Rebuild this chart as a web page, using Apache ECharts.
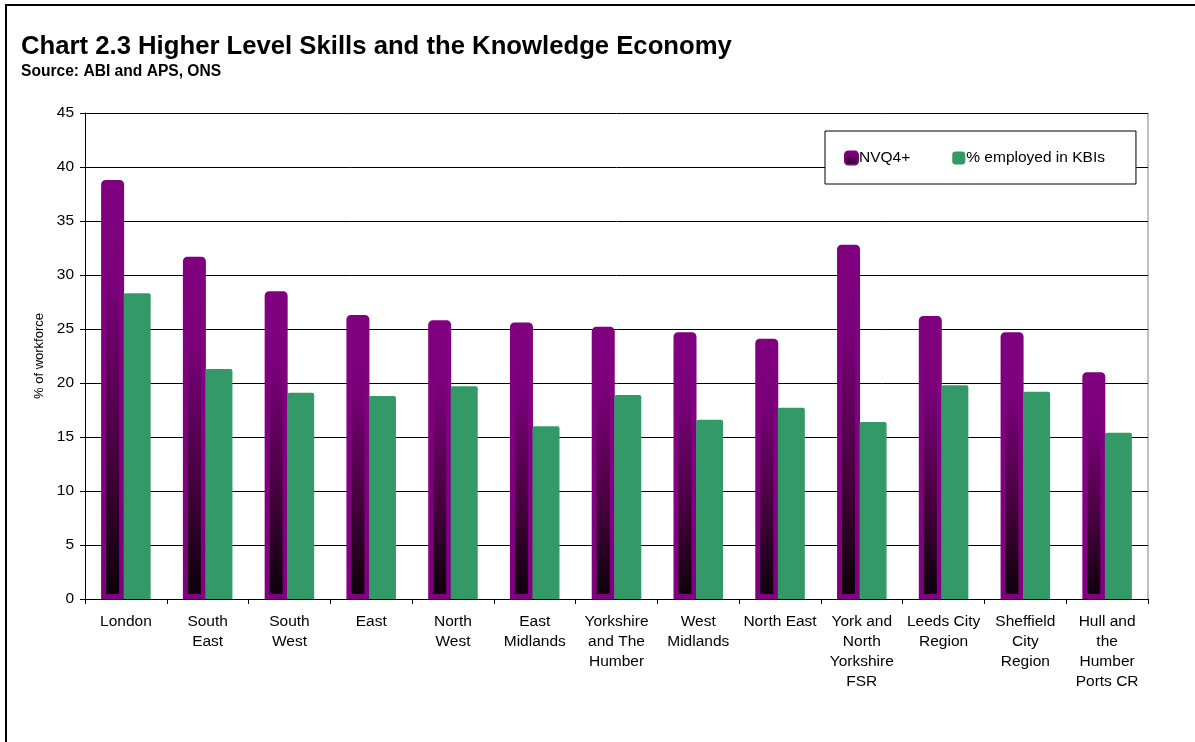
<!DOCTYPE html>
<html>
<head>
<meta charset="utf-8">
<script src="https://cdn.jsdelivr.net/npm/echarts@6/dist/echarts.min.js"></script>
<style>
  html, body { margin: 0; padding: 0; background: #fff; }
  #chart { width: 1195px; height: 742px; }
</style>
</head>
<body>
<div id="chart"></div>
<script>
// Regions along the category axis (line breaks as printed under each bar)
const regions = [
  'London', 'South\nEast', 'South\nWest', 'East', 'North\nWest', 'East\nMidlands',
  'Yorkshire\nand The\nHumber', 'West\nMidlands', 'North East',
  'York and\nNorth\nYorkshire\nFSR', 'Leeds City\nRegion', 'Sheffield\nCity\nRegion',
  'Hull and\nthe\nHumber\nPorts CR'
];

// Share of workforce qualified to NVQ level 4 or above (%)
const nvq4 = [38.8, 31.7, 28.5, 26.3, 25.8, 25.6, 25.2, 24.7, 24.1, 32.8, 26.2, 24.7, 21.0];

// Share of workforce employed in knowledge-based industries (%)
const kbi = [28.3, 21.3, 19.1, 18.8, 19.7, 16.0, 18.9, 16.6, 17.7, 16.4, 19.8, 19.2, 15.4];

const yTicks = { min: 0, max: 45, interval: 5 };

const FONT = '"Liberation Sans", Arial, sans-serif';

const chart = echarts.init(document.getElementById('chart'));

chart.setOption({
  animation: false,
  backgroundColor: '#fff',
  textStyle: { fontFamily: FONT },
  graphic: [{
    // outer frame of the exhibit
    type: 'rect',
    shape: { x: 6, y: 5, width: 1220, height: 800 },
    style: { fill: 'none', stroke: '#000', lineWidth: 2 },
    silent: true
  }, {
    // right-hand edge of the plot area
    type: 'line',
    shape: { x1: 1148, y1: 113, x2: 1148, y2: 599 },
    style: { stroke: '#808080', lineWidth: 1 },
    silent: true
  }],
  title: {
    text: 'Chart 2.3 Higher Level Skills and the Knowledge Economy',
    subtext: 'Source: ABI and APS, ONS',
    left: 16,
    top: 29,
    itemGap: 4,
    textStyle: { fontFamily: FONT, fontSize: 25.7, fontWeight: 'bold', color: '#000' },
    subtextStyle: { fontFamily: FONT, fontSize: 15.6, fontWeight: 'bold', color: '#000' }
  },
  legend: {
    left: 825,
    top: 131,
    padding: [19, 31, 18, 19],
    itemGap: 42,
    itemWidth: 13,
    itemHeight: 13,
    icon: 'roundRect',
    backgroundColor: '#fff',
    borderColor: '#000',
    borderWidth: 1,
    borderRadius: 0,
    textStyle: { fontFamily: FONT, fontSize: 15.5, color: '#000', padding: [0, 0, 0, -4] },
    data: ['NVQ4+', '% employed in KBIs']
  },
  grid: { left: 85, right: 47, top: 113, bottom: 143 },
  xAxis: {
    type: 'category',
    data: regions,
    axisLine: { lineStyle: { color: '#000', width: 1 } },
    axisTick: { show: true, length: 5, lineStyle: { color: '#000' } },
    axisLabel: {
      interval: 0,
      fontFamily: FONT,
      fontSize: 15.5,
      lineHeight: 20,
      color: '#000',
      margin: 13
    },
    splitLine: { show: false }
  },
  yAxis: {
    type: 'value',
    min: yTicks.min,
    max: yTicks.max,
    interval: yTicks.interval,
    name: '% of workforce',
    nameLocation: 'middle',
    nameGap: 36,
    nameTextStyle: { fontFamily: FONT, fontSize: 13, color: '#000' },
    axisLine: { show: true, lineStyle: { color: '#000', width: 1 } },
    axisTick: { show: true, inside: false, length: 5, lineStyle: { color: '#000' } },
    axisLabel: { fontFamily: FONT, fontSize: 15.5, color: '#000', margin: 11 },
    splitLine: { show: true, lineStyle: { color: '#000', width: 1 } }
  },
  series: [
    {
      name: 'NVQ4+',
      type: 'bar',
      data: nvq4,
      barWidth: 23,
      barGap: '-2%',
      z: 2,
      itemStyle: {
        color: new echarts.graphic.LinearGradient(0, 0, 0, 1, [
          { offset: 0, color: '#800080' },
          { offset: 0.25, color: '#7a007a' },
          { offset: 0.65, color: '#48003f' },
          { offset: 1, color: '#0a0008' }
        ]),
        borderColor: '#800080',
        borderWidth: 5,
        borderRadius: [2, 2, 0, 0]
      }
    },
    {
      name: '% employed in KBIs',
      type: 'bar',
      data: kbi,
      barWidth: 27,
      z: 3,
      itemStyle: {
        color: '#339966',
        borderRadius: [2, 2, 0, 0]
      }
    }
  ]
});
</script>
</body>
</html>
